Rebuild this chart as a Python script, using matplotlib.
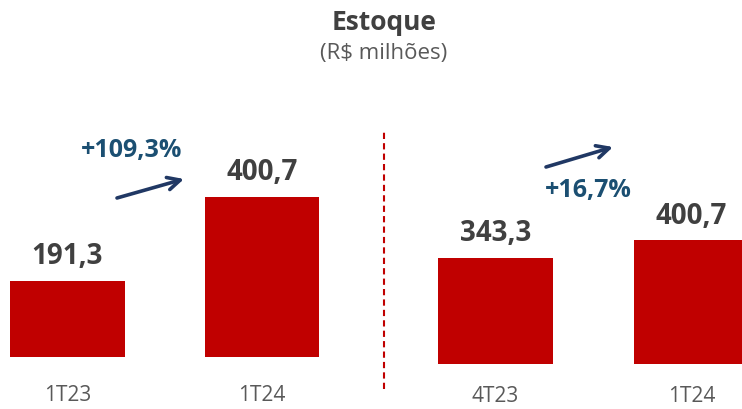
import matplotlib.pyplot as plt

# data
left_labels = ["1T23", "1T24"]
left_values = [191.3, 400.7]
right_labels = ["4T23", "1T24"]
right_values = [343.3, 400.7]
left_change = "+109,3%"
right_change = "+16,7%"

BAR = "#C00000"
VAL = "#404040"
TICK = "#595959"
PCT = "#1B4F72"
ARROW = "#203864"

plt.rcParams["font.family"] = ["Open Sans", "DejaVu Sans"]

W, H = 742, 409
fig = plt.figure(figsize=(W / 100, H / 100), dpi=100)


def px_axes(x0, x1, y_bottom, y_top):
    """Axes from pixel box (y measured from the top of the image)."""
    return fig.add_axes([x0 / W, 1 - y_bottom / H, (x1 - x0) / W, (y_bottom - y_top) / H])


def fmt(v):
    return f"{v:.1f}".replace(".", ",")


def draw_panel(ax, labels, values, xlim, ylim, pad):
    x = range(len(values))
    bars = ax.bar(x, values, width=0.59, color=BAR)
    for b, v in zip(bars, values):
        ax.annotate(fmt(v), (b.get_x() + b.get_width() / 2, v), xytext=(0, 12),
                    textcoords="offset points", ha="center", va="baseline",
                    fontsize=20, fontweight="bold", color=VAL)
    ax.set_xlim(*xlim)
    ax.set_ylim(*ylim)
    ax.set_xticks(list(x))
    ax.set_xticklabels(labels, fontsize=15, color=TICK)
    ax.tick_params(axis="x", length=0, pad=pad)
    ax.set_yticks([])
    for s in ax.spines.values():
        s.set_visible(False)
    ax.patch.set_alpha(0)


ax_l = px_axes(0, 380, 357, 100)
draw_panel(ax_l, left_labels, left_values, (-0.347, 1.607), (0, 257 / 0.3993), 20)

ax_r = px_axes(388, 742, 364, 100)
draw_panel(ax_r, right_labels, right_values, (-0.5485, 1.2577), (0, 264 / 0.3085), 16)

# separator
fig.add_artist(plt.Line2D([384 / W, 384 / W], [1 - 389 / H, 1 - 130 / H], color="#C00000",
                          lw=1.5, ls=(0, (3, 2))))

# growth arrows and labels
for tail, head, txt, tpos in [((117, 211), (184, 230), left_change, (132, 258)),
                              ((546, 242), (613, 262), right_change, (588, 218))]:
    fig.add_artist(plt.Annotation("", xy=head, xytext=tail, xycoords="figure pixels",
                                  arrowprops=dict(arrowstyle="->,head_length=0.9,head_width=0.45",
                                                  lw=2.6, color=ARROW, shrinkA=0, shrinkB=0)))
    fig.text(tpos[0] / W, tpos[1] / H, txt, ha="center", va="center",
             fontsize=18, fontweight="bold", color=PCT)

fig.text(384 / W, 1 - 23 / H, "Estoque", ha="center", va="center",
         fontsize=19, fontweight="bold", color=VAL)
fig.text(384 / W, 1 - 53 / H, "(R$ milhões)", ha="center", va="center",
         fontsize=16, color=TICK)

fig.savefig("out.png", dpi=100)
